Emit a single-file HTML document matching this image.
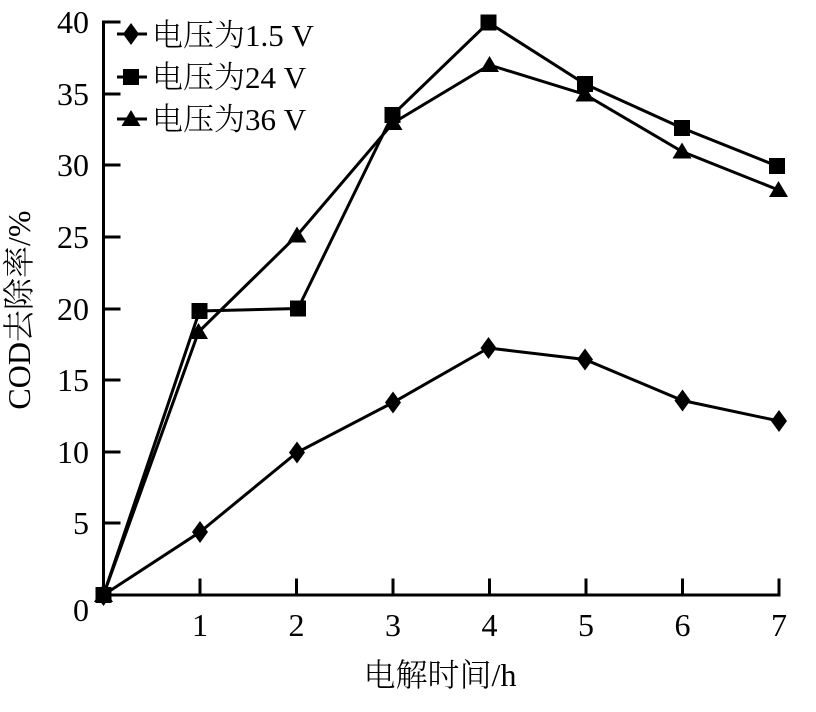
<!DOCTYPE html>
<html>
<head>
<meta charset="utf-8">
<style>
  html, body { margin: 0; padding: 0; background: #fff; }
  svg { display: block; }
  text { font-family: "Liberation Serif", "Noto Serif CJK SC", serif; fill: #000; }
  .cjk { font-family: "Liberation Serif", "Noto Serif CJK SC", "Noto Sans CJK SC", serif; }
</style>
</head>
<body>
<svg width="816" height="712" viewBox="0 0 816 712" xmlns="http://www.w3.org/2000/svg">
  <defs>
    <path id="dia" d="M0,-11 L8,0 L0,11 L-8,0 Z" fill="#000"/>
    <rect id="sq" x="-8" y="-8" width="16" height="16" fill="#000"/>
    <path id="tri" d="M0,-9 L9.5,7 L-9.5,7 Z" fill="#000"/>
  </defs>

  <!-- axes -->
  <g stroke="#000" stroke-width="3" fill="none" stroke-linecap="square">
    <line x1="103.5" y1="22" x2="103.5" y2="595"/>
    <line x1="103.5" y1="595" x2="779" y2="595"/>
    <!-- y ticks -->
    <line x1="103.5" y1="22" x2="119" y2="22"/>
    <line x1="103.5" y1="94" x2="119" y2="94"/>
    <line x1="103.5" y1="165" x2="119" y2="165"/>
    <line x1="103.5" y1="237" x2="119" y2="237"/>
    <line x1="103.5" y1="309" x2="119" y2="309"/>
    <line x1="103.5" y1="380" x2="119" y2="380"/>
    <line x1="103.5" y1="452" x2="119" y2="452"/>
    <line x1="103.5" y1="523" x2="119" y2="523"/>
    <!-- x ticks -->
    <line x1="200" y1="595" x2="200" y2="580"/>
    <line x1="296.5" y1="595" x2="296.5" y2="580"/>
    <line x1="393" y1="595" x2="393" y2="580"/>
    <line x1="489.5" y1="595" x2="489.5" y2="580"/>
    <line x1="586" y1="595" x2="586" y2="580"/>
    <line x1="682.5" y1="595" x2="682.5" y2="580"/>
    <line x1="779" y1="595" x2="779" y2="580"/>
  </g>

  <!-- y tick labels -->
  <g font-size="32" text-anchor="end">
    <text x="89" y="33">40</text>
    <text x="89" y="105">35</text>
    <text x="89" y="176">30</text>
    <text x="89" y="248">25</text>
    <text x="89" y="320">20</text>
    <text x="89" y="391">15</text>
    <text x="89" y="463">10</text>
    <text x="89" y="534">5</text>
    <text x="89" y="621">0</text>
  </g>
  <!-- x tick labels -->
  <g font-size="32" text-anchor="middle">
    <text x="200" y="636">1</text>
    <text x="296.5" y="636">2</text>
    <text x="393" y="636">3</text>
    <text x="489.5" y="636">4</text>
    <text x="586" y="636">5</text>
    <text x="682.5" y="636">6</text>
    <text x="779" y="636">7</text>
  </g>

  <!-- axis titles -->
  <text class="cjk" x="440" y="686" font-size="32" font-weight="300" text-anchor="middle">电解时间/h</text>
  <text class="cjk" transform="translate(30,310) rotate(-90)" font-size="32" font-weight="300" text-anchor="middle">COD去除率/%</text>

  <!-- series lines -->
  <g stroke="#000" stroke-width="3" fill="none" stroke-linejoin="miter">
    <polyline points="103.5,595 200,532 297,452.5 393,402.5 488.5,348 585,359.5 682.5,400.5 779,421"/>
    <polyline points="103.5,595 199.5,311 298,308.5 392.5,115 488.5,22.5 585,84 682,128 777,166"/>
    <polyline points="103.5,595 198.5,332 297,235.5 393,123 489.5,65 585,94.5 682,151.5 778.5,190"/>
  </g>

  <!-- diamond markers -->
  <g>
    <use href="#dia" x="103.5" y="595"/>
    <use href="#dia" x="200" y="532"/>
    <use href="#dia" x="297" y="452.5"/>
    <use href="#dia" x="393" y="402.5"/>
    <use href="#dia" x="488.5" y="348"/>
    <use href="#dia" x="585" y="359.5"/>
    <use href="#dia" x="682.5" y="400.5"/>
    <use href="#dia" x="779" y="421"/>
  </g>
  <!-- triangle markers -->
  <g>
    <use href="#tri" x="103.5" y="595"/>
    <use href="#tri" x="198.5" y="332"/>
    <use href="#tri" x="297" y="235.5"/>
    <use href="#tri" x="393" y="123"/>
    <use href="#tri" x="489.5" y="65"/>
    <use href="#tri" x="585" y="94.5"/>
    <use href="#tri" x="682" y="151.5"/>
    <use href="#tri" x="778.5" y="190"/>
  </g>
  <!-- square markers -->
  <g>
    <use href="#sq" x="103.5" y="595"/>
    <use href="#sq" x="199.5" y="311"/>
    <use href="#sq" x="298" y="308.5"/>
    <use href="#sq" x="392.5" y="115"/>
    <use href="#sq" x="488.5" y="22.5"/>
    <use href="#sq" x="585" y="84"/>
    <use href="#sq" x="682" y="128"/>
    <use href="#sq" x="777" y="166"/>
  </g>

  <!-- legend -->
  <g stroke="#000" stroke-width="3">
    <line x1="117" y1="34" x2="147" y2="34"/>
    <line x1="117" y1="77" x2="147" y2="77"/>
    <line x1="117" y1="119" x2="147" y2="119"/>
  </g>
  <use href="#dia" x="131" y="34"/>
  <use href="#sq" x="131" y="77"/>
  <use href="#tri" x="131" y="119"/>
  <g class="cjk" font-size="31" font-weight="300">
    <text x="152" y="46">电压为1.5 V</text>
    <text x="152" y="88">电压为24 V</text>
    <text x="152" y="130">电压为36 V</text>
  </g>
</svg>
</body>
</html>
